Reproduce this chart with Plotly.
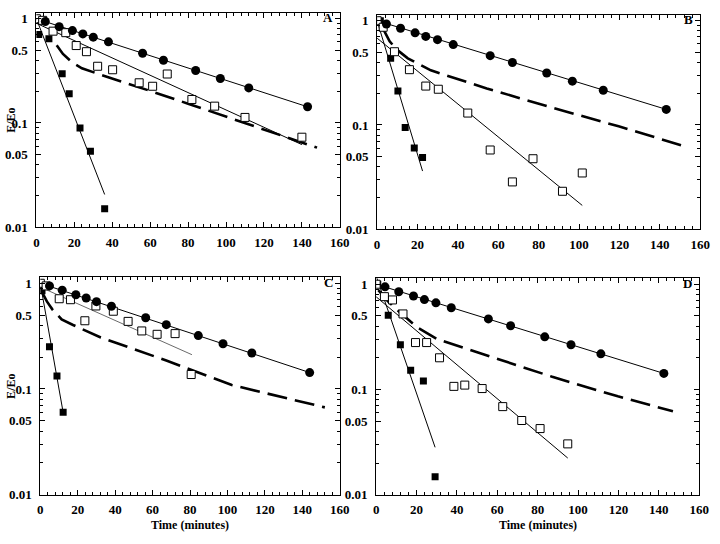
import plotly.graph_objects as go

# ---------------- data ----------------
# Panel A
A_t_circ = [4.7, 12, 19, 24.5, 30, 38, 56, 67, 84, 97, 112, 143]
A_circ = [0.94, 0.84, 0.77, 0.715, 0.666, 0.60, 0.466, 0.40, 0.319, 0.267, 0.217, 0.143]
A_t_open = [0, 3.3, 8.8, 15.5, 21, 26.4, 32.3, 40.2, 54.2, 61.3, 69, 82, 94, 110, 140]
A_open = [1.0, 0.965, 0.76, 0.735, 0.553, 0.483, 0.35, 0.324, 0.243, 0.225, 0.295, 0.168, 0.145, 0.113, 0.073]
A_t_fill = [1.2, 6.6, 13.6, 17.3, 23, 28.5, 36]
A_fill = [0.705, 0.642, 0.297, 0.191, 0.0895, 0.0536, 0.0150]
A_fit_circ_t = [0, 143]
A_fit_circ = [1.0, 0.143]
A_fit_open_t = [0, 140]
A_fit_open = [0.905, 0.062]
A_fit_fill_t = [0, 36]
A_fit_fill = [1.0, 0.0206]
A_dash_t = [10.7, 14, 19, 24, 34, 45, 60, 80, 100, 120, 135, 148]
A_dash = [0.557, 0.46, 0.38, 0.335, 0.29, 0.25, 0.203, 0.153, 0.115, 0.087, 0.070, 0.058]

# Panel B
B_t_circ = [4.6, 11.6, 18.8, 24.1, 29.9, 37.7, 56, 67, 84, 96.7, 112, 143.2]
B_circ = [0.93, 0.847, 0.765, 0.707, 0.658, 0.59, 0.462, 0.397, 0.315, 0.263, 0.215, 0.141]
B_t_open = [0, 3.0, 8.6, 16, 24.1, 30.3, 44.9, 56, 67, 77.2, 91.8, 101.6]
B_open = [1.0, 0.865, 0.504, 0.339, 0.236, 0.22, 0.13, 0.0575, 0.0284, 0.0474, 0.0231, 0.0346]
B_t_fill = [1.6, 6.7, 10.3, 13.9, 18.4, 22.5]
B_fill = [1.0, 0.436, 0.212, 0.0945, 0.06, 0.0486]
B_fit_circ_t = [0, 143.2]
B_fit_circ = [1.0, 0.141]
B_fit_open_t = [0, 101.6]
B_fit_open = [0.68, 0.0169]
B_fit_fill_t = [0, 22.5]
B_fit_fill = [1.0, 0.0361]
B_dash_t = [2.6, 6.2, 9.5, 15.2, 26.6, 54.3, 87, 119.6, 150.5]
B_dash = [0.865, 0.635, 0.533, 0.436, 0.334, 0.224, 0.146, 0.097, 0.064]

# Panel C
C_t_circ = [4.9, 11.7, 19, 24.5, 30, 38, 56.3, 67.3, 84.4, 97.6, 113, 143.9]
C_circ = [0.944, 0.86, 0.778, 0.725, 0.67, 0.606, 0.472, 0.406, 0.32, 0.268, 0.219, 0.143]
C_t_open = [0, 3.1, 10.1, 16.1, 23.8, 29.7, 39, 46.9, 54.2, 62.4, 72, 80.6]
C_open = [1.0, 0.944, 0.714, 0.699, 0.442, 0.61, 0.544, 0.436, 0.354, 0.329, 0.334, 0.137]
C_t_fill = [0.9, 4.9, 8.9, 12.2]
C_fill = [0.848, 0.251, 0.133, 0.0601]
C_fit_circ_t = [0, 143.9]
C_fit_circ = [1.0, 0.143]
C_fit_open_t = [0, 81]
C_fit_open = [0.92, 0.211]
C_fit_fill_t = [0.3, 12.2]
C_fit_fill = [0.93, 0.06]
C_dash_t = [1.2, 3.5, 6.5, 11.4, 17.5, 32.3, 67.3, 102.3, 152]
C_dash = [0.807, 0.674, 0.564, 0.455, 0.403, 0.307, 0.186, 0.109, 0.067]

# Panel D
D_t_circ = [4.4, 11.2, 18.5, 23.9, 29.6, 37.2, 55.6, 66.6, 83.5, 96.5, 111.3, 142.5]
D_circ = [0.944, 0.848, 0.773, 0.714, 0.665, 0.597, 0.468, 0.403, 0.316, 0.266, 0.218, 0.142]
D_t_open = [0, 4.1, 8.1, 13.3, 19.5, 25, 31.4, 38.5, 43.9, 52.5, 62.7, 72.1, 81.2, 94.9]
D_open = [1.0, 0.762, 0.709, 0.522, 0.279, 0.279, 0.2, 0.107, 0.110, 0.102, 0.0687, 0.0507, 0.0425, 0.0304]
D_t_fill = [0.8, 6, 12, 17.1, 23.4, 29.2]
D_fill = [1.0, 0.506, 0.266, 0.152, 0.12, 0.0148]
D_fit_circ_t = [0, 142.5]
D_fit_circ = [1.0, 0.142]
D_fit_open_t = [0, 94.9]
D_fit_open = [0.76, 0.0223]
D_fit_fill_t = [0, 29.2]
D_fit_fill = [1.2, 0.0282]
D_dash_t = [1.1, 6, 10.9, 15.8, 20.6, 30.4, 54.7, 87.2, 119.7, 147]
D_dash = [0.879, 0.684, 0.56, 0.462, 0.386, 0.30, 0.21, 0.132, 0.086, 0.062]

panel_letters = ["A", "B", "C", "D"]
y_tickvals = [0.01, 0.05, 0.1, 0.5, 1]
y_ticktext = ["0.01", "0.05", "0.1", "0.5", "1"]
x_tickvals = [0, 20, 40, 60, 80, 100, 120, 140, 160]
x_title = "Time (minutes)"
y_title = "E/Eo"

panels = [
    (A_t_circ, A_circ, A_t_open, A_open, A_t_fill, A_fill, A_fit_circ_t, A_fit_circ,
     A_fit_open_t, A_fit_open, A_fit_fill_t, A_fit_fill, A_dash_t, A_dash),
    (B_t_circ, B_circ, B_t_open, B_open, B_t_fill, B_fill, B_fit_circ_t, B_fit_circ,
     B_fit_open_t, B_fit_open, B_fit_fill_t, B_fit_fill, B_dash_t, B_dash),
    (C_t_circ, C_circ, C_t_open, C_open, C_t_fill, C_fill, C_fit_circ_t, C_fit_circ,
     C_fit_open_t, C_fit_open, C_fit_fill_t, C_fit_fill, C_dash_t, C_dash),
    (D_t_circ, D_circ, D_t_open, D_open, D_t_fill, D_fill, D_fit_circ_t, D_fit_circ,
     D_fit_open_t, D_fit_open, D_fit_fill_t, D_fit_fill, D_dash_t, D_dash),
]

# ---------------- layout geometry (pixels of 720x544 canvas) ----------------
W, H = 720, 544
boxes = [  # left, right, top, bottom
    (34, 343, 12, 230),
    (381, 710, 14, 232),
    (38, 343, 281, 502),
    (380, 709, 282, 502),
]
y_top = [0.057, 0.057, 0.056, 0.056]

FONT = "Liberation Serif"
fig = go.Figure()

minor_y = [v * m for v in (0.01, 0.1) for m in range(2, 10)]

for i, p in enumerate(panels):
    (tc, c, to, o, tf, f, fct, fc, fot, fo, fft, ff, dt, d) = p
    sfx = "" if i == 0 else str(i + 1)
    xa, ya = "x" + sfx, "y" + sfx
    thin = dict(color="black", width=1)
    if i == 2:
        open_line = dict(color="#444", width=0.8)
    else:
        open_line = thin
    fig.add_trace(go.Scatter(x=dt, y=d, mode="lines", xaxis=xa, yaxis=ya,
                             line=dict(color="black", width=2.6, dash="20px,8px")))
    fig.add_trace(go.Scatter(x=fct, y=fc, mode="lines", xaxis=xa, yaxis=ya, line=thin))
    fig.add_trace(go.Scatter(x=fot, y=fo, mode="lines", xaxis=xa, yaxis=ya, line=open_line))
    fig.add_trace(go.Scatter(x=fft, y=ff, mode="lines", xaxis=xa, yaxis=ya, line=thin))
    fig.add_trace(go.Scatter(x=tf, y=f, mode="markers", xaxis=xa, yaxis=ya,
                             marker=dict(symbol="square", size=7, color="black")))
    fig.add_trace(go.Scatter(x=to, y=o, mode="markers", xaxis=xa, yaxis=ya,
                             marker=dict(symbol="square", size=8, color="white",
                                         line=dict(color="black", width=1))))
    fig.add_trace(go.Scatter(x=tc, y=c, mode="markers", xaxis=xa, yaxis=ya,
                             marker=dict(symbol="circle", size=9, color="black")))

    l, r, t, b = boxes[i]
    common = dict(showline=True, linecolor="black", linewidth=1, mirror="allticks",
                  ticks="inside", tickcolor="black", ticklen=5, tickwidth=1,
                  showgrid=False, zeroline=False,
                  tickfont=dict(family=FONT, size=13, color="black", weight="bold"))
    fig.layout["xaxis" + sfx] = dict(
        domain=[l / W, r / W], anchor=ya, range=[0, 160],
        tickvals=x_tickvals, ticklabelstandoff=3,
        minor=dict(dtick=4, tick0=0, ticks="inside", ticklen=3, tickcolor="black"),
        **common)
    fig.layout["yaxis" + sfx] = dict(
        domain=[1 - b / H, 1 - t / H], anchor=xa, type="log",
        range=[-2, y_top[i]], tickvals=y_tickvals, ticktext=y_ticktext,
        ticklabelstandoff=5,
        minor=dict(tickvals=minor_y, ticks="inside", ticklen=3, tickcolor="black"),
        **common)
    # panel letter
    fig.add_annotation(text=panel_letters[i], xref="paper", yref="paper",
                       x=(r - 12) / W, y=1 - (t + 5) / H, showarrow=False,
                       xanchor="center", yanchor="middle",
                       font=dict(family=FONT, size=13, color="black", weight="bold"))

# axis titles
for (l, r, t, b) in (boxes[0], boxes[2]):
    fig.add_annotation(text=y_title, xref="paper", yref="paper", x=8 / W,
                       y=1 - ((t + b) / 2) / H, textangle=-90, showarrow=False,
                       xanchor="center", yanchor="middle",
                       font=dict(family=FONT, size=12, color="black", weight="bold"))
for (l, r, t, b) in (boxes[2], boxes[3]):
    fig.add_annotation(text=x_title, xref="paper", yref="paper", x=((l + r) / 2) / W,
                       y=1 - 533 / H, showarrow=False, xanchor="center", yanchor="middle",
                       font=dict(family=FONT, size=12, color="black", weight="bold"))

fig.update_layout(width=W, height=H, margin=dict(l=0, r=0, t=0, b=0),
                  paper_bgcolor="white", plot_bgcolor="white", showlegend=False)
fig.write_html("out.html", config={"displayModeBar": False},
               post_script="document.body.style.margin='0';document.body.style.padding='0';")
